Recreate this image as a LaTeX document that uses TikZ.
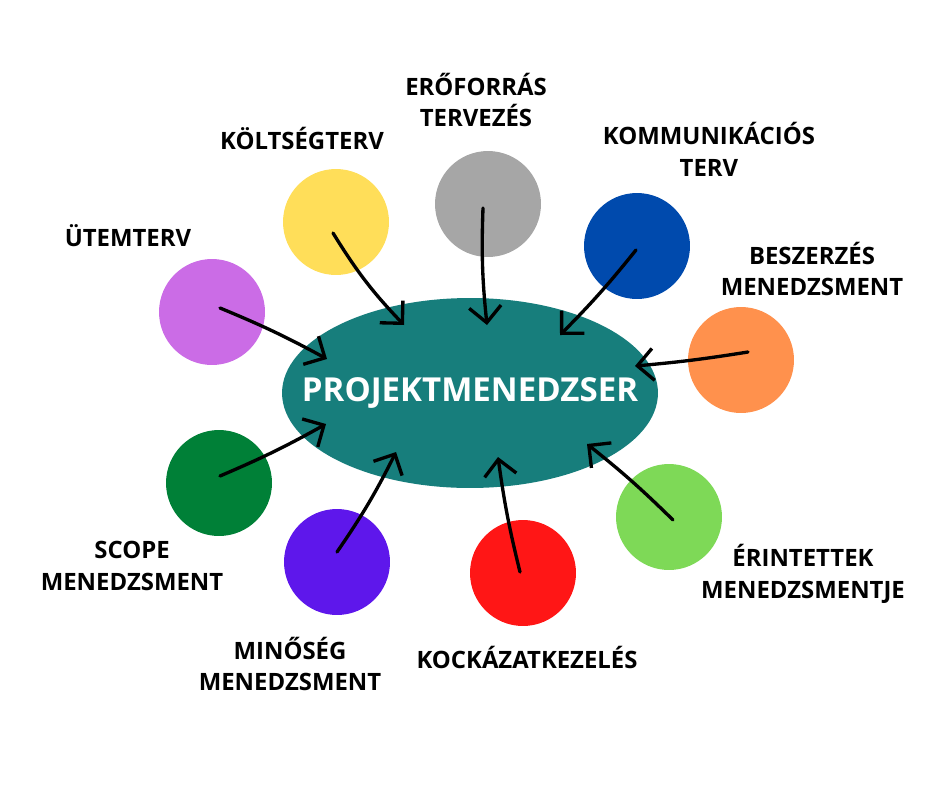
\documentclass[tikz,border=0pt]{standalone}
\usepackage{fontspec}
\setmainfont{Open Sans}
\usetikzlibrary{shapes.geometric, arrows.meta}
\definecolor{cTeal}{RGB}{23,126,124}
\definecolor{cGray}{RGB}{166,166,166}
\definecolor{cYellow}{RGB}{255,222,89}
\definecolor{cBlue}{RGB}{0,74,173}
\definecolor{cLilac}{RGB}{203,108,230}
\definecolor{cOrange}{RGB}{255,145,77}
\definecolor{cDkGreen}{RGB}{0,128,55}
\definecolor{cLtGreen}{RGB}{126,217,87}
\definecolor{cViolet}{RGB}{94,23,235}
\definecolor{cRed}{RGB}{255,22,22}
\tikzset{
	hub/.style  ={ellipse, fill=cTeal, minimum width=7.52cm, minimum height=3.8cm, inner sep=0pt},
	hubtext/.style={text=white, inner sep=0pt, font=\bfseries\fontsize{18.8}{22}\selectfont},
	topic/.style={circle, minimum size=2.12cm, inner sep=0pt},
	lbl/.style  ={align=center, text=black, inner sep=0pt, font=\bfseries\fontsize{13.6}{18.1}\selectfont},
	pull/.style ={-{Straight Barb[length=3.2mm, width=6.4mm]}, line width=1.9pt, line cap=round},
}
\begin{document}
\begin{tikzpicture}[x=0.02cm, y=-0.02cm]
	\useasboundingbox (0,0) rectangle (940,788);
	\node[hub] (pm) at (470,393) {};
	\node[hubtext] (pmText) at (pm.center) {PROJEKTMENEDZSER};
	% topic circles
	\node[topic, fill=cGray]    (eroforras) at (488,204) {};
	\node[topic, fill=cYellow]  (koltseg)   at (336,222) {};
	\node[topic, fill=cBlue]    (komm)      at (637,246) {};
	\node[topic, fill=cLilac]   (utem)      at (212,312) {};
	\node[topic, fill=cOrange]  (beszerzes) at (741,360) {};
	\node[topic, fill=cDkGreen] (scope)     at (219,483) {};
	\node[topic, fill=cLtGreen] (erintett)  at (669,517) {};
	\node[topic, fill=cViolet]  (minoseg)   at (337,562) {};
	\node[topic, fill=cRed]     (kockazat)  at (523,573) {};
	% labels
	\node[lbl] (lEroforras) at (476,100) {ERŐFORRÁS\\TERVEZÉS};
	\node[lbl] (lKoltseg)   at (302,138) {KÖLTSÉGTERV};
	\node[lbl] (lKomm)      at (709,149) {KOMMUNIKÁCIÓS\\TERV};
	\node[lbl] (lUtem)      at (128,236) {ÜTEMTERV};
	\node[lbl] (lBeszerzes) at (812,269) {BESZERZÉS\\MENEDZSMENT};
	\node[lbl] (lScope)     at (132,566) {SCOPE\\MENEDZSMENT};
	\node[lbl] (lErintett)  at (803,574) {ÉRINTETTEK\\MENEDZSMENTJE};
	\node[lbl] (lMinoseg)   at (290,664) {MINŐSÉG\\MENEDZSMENT};
	\node[lbl] (lKockazat)  at (527,657) {KOCKÁZATKEZELÉS};
	% arrow tips on the hub
	\coordinate (tEroforras) at (487,325);
	\coordinate (tKoltseg)   at (404,325);
	\coordinate (tKomm)      at (560,335);
	\coordinate (tUtem)      at (327,359);
	\coordinate (tBeszerzes) at (635,366);
	\coordinate (tScope)     at (326,424);
	\coordinate (tErintett)  at (587,444);
	\coordinate (tMinoseg)   at (396,452);
	\coordinate (tKockazat)  at (498,457);
	% arrows
	\draw[pull] ([shift={(-5,4)}]eroforras.center) to[bend right=4] (tEroforras);
	\draw[pull] ([shift={(-3,11)}]koltseg.center) to[bend right=6] (tKoltseg);
	\draw[pull] ([shift={(-1,4)}]komm.center) to[bend left=3] (tKomm);
	\draw[pull] ([shift={(8,-4)}]utem.center) to[bend left=3] (tUtem);
	\draw[pull] ([shift={(7,-8)}]beszerzes.center) to[bend left=2] (tBeszerzes);
	\draw[pull] ([shift={(1,-7)}]scope.center) to[bend right=3] (tScope);
	\draw[pull] ([shift={(4,3)}]erintett.center) to[bend right=3] (tErintett);
	\draw[pull] ([shift={(0,-10)}]minoseg.center) to[bend right=4] (tMinoseg);
	\draw[pull] ([shift={(-3,-1)}]kockazat.center) to[bend left=3] (tKockazat);
\end{tikzpicture}
\end{document}
